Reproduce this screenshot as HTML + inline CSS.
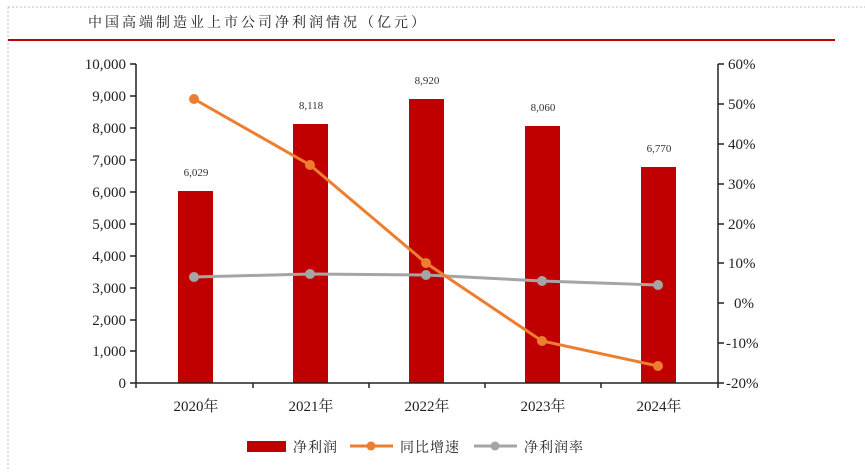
<!DOCTYPE html>
<html><head><meta charset="utf-8"><style>
body{margin:0;background:#fff;}
svg text{font-family:"Liberation Serif","Noto Serif CJK SC",serif;}
</style></head><body>
<svg width="865" height="470" viewBox="0 0 865 470" xmlns="http://www.w3.org/2000/svg">
<rect width="865" height="470" fill="#fff"/>
<line x1="8" y1="7" x2="865" y2="7" stroke="#bbb" stroke-dasharray="2,2"/>
<line x1="8" y1="7" x2="8" y2="470" stroke="#bbb" stroke-dasharray="2,2"/>
<text x="88" y="27" font-size="14" letter-spacing="3" fill="#222" font-family="'Noto Serif CJK SC',serif">中国高端制造业上市公司净利润情况（亿元）</text>
<line x1="8" y1="40" x2="835" y2="40" stroke="#c00000" stroke-width="2"/>
<g fill="#c00000">
<rect x="178" y="191" width="35" height="192"/>
<rect x="293" y="124" width="35" height="259"/>
<rect x="409" y="99" width="35" height="284"/>
<rect x="525" y="126" width="35" height="257"/>
<rect x="641" y="167" width="35" height="216"/>
</g>
<g font-size="11" fill="#333" text-anchor="middle">
<text x="196" y="176">6,029</text><text x="311" y="109">8,118</text><text x="427" y="84">8,920</text><text x="543" y="111">8,060</text><text x="659" y="152">6,770</text>
</g>
<g stroke="#222" stroke-width="1.5" fill="none">
<path d="M136 64V383"/>
<path d="M130 64H136M130 96H136M130 128H136M130 160H136M130 192H136M130 224H136M130 256H136M130 288H136M130 320H136M130 351H136M130 383H136"/>
<path d="M718 64V383"/>
<path d="M718 64H724M718 104H724M718 144H724M718 184H724M718 224H724M718 263H724M718 303H724M718 343H724M718 383H724"/>
<path d="M136 383H718"/>
<path d="M136 383v5M253 383v5M369 383v5M485 383v5M601 383v5M718 383v5"/>
</g>
<g font-size="15" fill="#222" text-anchor="end">
<text x="126" y="69">10,000</text><text x="126" y="101">9,000</text><text x="126" y="133">8,000</text><text x="126" y="165">7,000</text><text x="126" y="197">6,000</text><text x="126" y="229">5,000</text><text x="126" y="261">4,000</text><text x="126" y="293">3,000</text><text x="126" y="325">2,000</text><text x="126" y="356">1,000</text><text x="126" y="388">0</text>
</g>
<g font-size="15" fill="#222" text-anchor="start">
<text x="728" y="69">60%</text><text x="728" y="109">50%</text><text x="728" y="149">40%</text><text x="728" y="189">30%</text><text x="728" y="229">20%</text><text x="728" y="268">10%</text><text x="734" y="308">0%</text><text x="726" y="348">-10%</text><text x="726" y="388">-20%</text>
</g>
<g font-size="15" fill="#222" text-anchor="middle">
<text x="196" y="411">2020年</text><text x="311" y="411">2021年</text><text x="427" y="411">2022年</text><text x="543" y="411">2023年</text><text x="659" y="411">2024年</text>
</g>
<polyline points="194,277 310,274 426,275 542,281 658,285" fill="none" stroke="#a5a5a5" stroke-width="3"/>
<g fill="#a5a5a5"><circle cx="194" cy="277" r="5"/><circle cx="310" cy="274" r="5"/><circle cx="426" cy="275" r="5"/><circle cx="542" cy="281" r="5"/><circle cx="658" cy="285" r="5"/></g>
<polyline points="194,99 310,165 426,263 542,341 658,366" fill="none" stroke="#ed7d31" stroke-width="3"/>
<g fill="#ed7d31"><circle cx="194" cy="99" r="5"/><circle cx="310" cy="165" r="5"/><circle cx="426" cy="263" r="5"/><circle cx="542" cy="341" r="5"/><circle cx="658" cy="366" r="5"/></g>
<rect x="247" y="441" width="39" height="11" fill="#c00000"/>
<text x="293" y="452" font-size="14" letter-spacing="1" fill="#222" font-family="'Noto Serif CJK SC',serif">净利润</text>
<line x1="350" y1="446" x2="393" y2="446" stroke="#ed7d31" stroke-width="3"/><circle cx="371" cy="446" r="4.5" fill="#ed7d31"/>
<text x="400" y="452" font-size="14" letter-spacing="1" fill="#222" font-family="'Noto Serif CJK SC',serif">同比增速</text>
<line x1="474" y1="446" x2="517" y2="446" stroke="#a5a5a5" stroke-width="3"/><circle cx="495" cy="446" r="4.5" fill="#a5a5a5"/>
<text x="524" y="452" font-size="14" letter-spacing="1" fill="#222" font-family="'Noto Serif CJK SC',serif">净利润率</text>
</svg>
</body></html>
